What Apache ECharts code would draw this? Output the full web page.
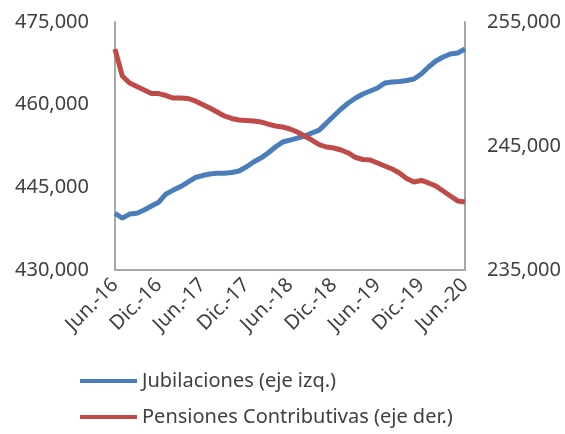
<!DOCTYPE html>
<html>
<head>
<meta charset="utf-8">
<script src="https://cdn.jsdelivr.net/npm/echarts@6/dist/echarts.min.js"></script>
<style>
  html, body { margin: 0; padding: 0; background: #fff; }
  #main { width: 565px; height: 434px; }
</style>
</head>
<body>
<div id="main"></div>
<script>
var meses = [
    'Jun.-16', 'Jul.-16', 'Ago.-16', 'Sep.-16', 'Oct.-16', 'Nov.-16', 'Dic.-16',
    'Ene.-17', 'Feb.-17', 'Mar.-17', 'Abr.-17', 'May.-17', 'Jun.-17',
    'Jul.-17', 'Ago.-17', 'Sep.-17', 'Oct.-17', 'Nov.-17', 'Dic.-17',
    'Ene.-18', 'Feb.-18', 'Mar.-18', 'Abr.-18', 'May.-18', 'Jun.-18',
    'Jul.-18', 'Ago.-18', 'Sep.-18', 'Oct.-18', 'Nov.-18', 'Dic.-18',
    'Ene.-19', 'Feb.-19', 'Mar.-19', 'Abr.-19', 'May.-19', 'Jun.-19',
    'Jul.-19', 'Ago.-19', 'Sep.-19', 'Oct.-19', 'Nov.-19', 'Dic.-19',
    'Ene.-20', 'Feb.-20', 'Mar.-20', 'Abr.-20', 'May.-20', 'Jun.-20'
];

// eje izquierdo
var jubilaciones = [
    440300, 439400, 440150, 440300, 440900, 441600, 442300,
    443800, 444500, 445140, 445960, 446780, 447140,
    447410, 447540, 447540, 447680, 447960, 448680,
    449590, 450310, 451220, 452310, 453220, 453580,
    453940, 454300, 454850, 455390, 456660, 457940,
    459210, 460300, 461200, 461930, 462470, 463020,
    463920, 464110, 464200, 464380, 464650, 465560,
    466830, 467920, 468650, 469190, 469370, 470100
];

// eje derecho
var pensiones = [
    252820, 250650, 250080, 249800, 249520, 249230, 249230,
    249070, 248870, 248870, 248830, 248630, 248350,
    248060, 247740, 247420, 247220, 247100, 247060,
    247020, 246940, 246770, 246610, 246530, 246370,
    246130, 245810, 245480, 245120, 244920, 244840,
    244680, 244440, 244070, 243910, 243870, 243630,
    243390, 243150, 242820, 242380, 242100, 242220,
    242020, 241770, 241370, 240970, 240570, 240480
];

var ticksIzq = [430000, 445000, 460000, 475000];
var ticksDer = [235000, 245000, 255000];

var colorTexto = '#404040';
var colorEje = '#a6a6a6';
var fuente = 'Noto Sans';

function fmt(v) {
    return v.toLocaleString('en-US');
}

function leyenda(nombre, top) {
    return {
        left: 75,
        top: top,
        itemWidth: 57,
        itemHeight: 4,
        icon: 'rect',
        textStyle: { fontFamily: fuente, fontSize: 20, color: colorTexto },
        data: [nombre]
    };
}

var myChart = echarts.init(document.getElementById('main'));
var option = {
    animation: false,
    textStyle: { fontFamily: fuente },
    grid: { left: 115, right: 100, top: 22, bottom: 164 },
    legend: [
        leyenda('Jubilaciones (eje izq.)', 366),
        leyenda('Pensiones Contributivas (eje der.)', 402)
    ],
    xAxis: {
        type: 'category',
        data: meses,
        boundaryGap: false,
        axisLine: { lineStyle: { color: colorEje, width: 2 } },
        axisTick: { show: false },
        axisLabel: {
            interval: 5,
            rotate: 45,
            margin: 12,
            fontFamily: fuente,
            fontSize: 20,
            color: colorTexto
        },
        splitLine: { show: false }
    },
    yAxis: [
        {
            type: 'value',
            min: 430000,
            max: 475000,
            interval: 5000,
            axisLine: { show: true, lineStyle: { color: colorEje, width: 2 } },
            axisTick: { show: false },
            splitLine: { show: false },
            axisLabel: {
                margin: 26,
                fontFamily: fuente,
                fontSize: 20,
                color: colorTexto,
                formatter: function (v) {
                    return ticksIzq.indexOf(v) >= 0 ? fmt(v) : '';
                }
            }
        },
        {
            type: 'value',
            position: 'right',
            min: 235000,
            max: 255000,
            interval: 5000,
            axisLine: { show: true, lineStyle: { color: colorEje, width: 2 } },
            axisTick: { show: false },
            splitLine: { show: false },
            axisLabel: {
                margin: 22,
                fontFamily: fuente,
                fontSize: 20,
                color: colorTexto,
                formatter: function (v) {
                    return ticksDer.indexOf(v) >= 0 ? fmt(v) : '';
                }
            }
        }
    ],
    series: [
        {
            name: 'Jubilaciones (eje izq.)',
            type: 'line',
            yAxisIndex: 0,
            data: jubilaciones,
            showSymbol: false,
            itemStyle: { color: '#4a7ebb' },
            lineStyle: { color: '#4a7ebb', width: 5 }
        },
        {
            name: 'Pensiones Contributivas (eje der.)',
            type: 'line',
            yAxisIndex: 1,
            data: pensiones,
            showSymbol: false,
            itemStyle: { color: '#be4b48' },
            lineStyle: { color: '#be4b48', width: 5 }
        }
    ]
};
myChart.setOption(option);
</script>
</body>
</html>
